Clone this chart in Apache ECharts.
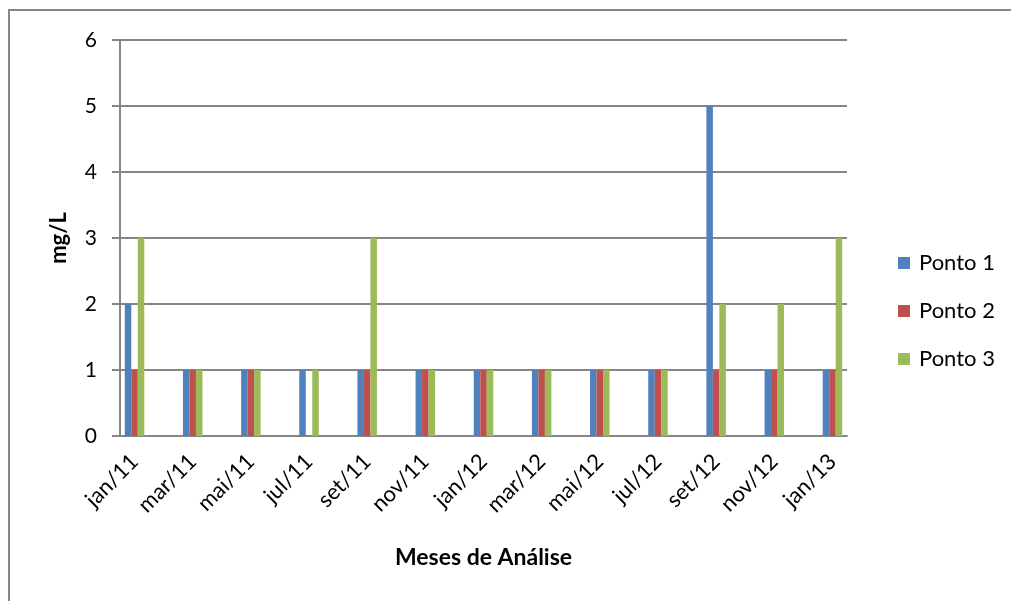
<!DOCTYPE html>
<html>
	<head>
		<meta charset="utf-8" />
		<title></title>
		<script type="text/javascript" src="https://cdn.jsdelivr.net/npm/echarts@6/dist/echarts.min.js"></script>
	</head>
	<body style="margin:0;background:#fff;">
		<div id="main" style="width: 1011px;height: 601px;"></div>
		<script type="text/javascript">
	// meses (eixo de datas mensal, rótulos a cada 2 meses)
	var meses = ['jan/11','fev/11','mar/11','abr/11','mai/11','jun/11','jul/11','ago/11','set/11','out/11','nov/11','dez/11',
	             'jan/12','fev/12','mar/12','abr/12','mai/12','jun/12','jul/12','ago/12','set/12','out/12','nov/12','dez/12',
	             'jan/13'];
	var ponto1 = [2,'-',1,'-',1,'-',1,'-',1,'-',1,'-',1,'-',1,'-',1,'-',1,'-',5,'-',1,'-',1];
	var ponto2 = [1,'-',1,'-',1,'-',0,'-',1,'-',1,'-',1,'-',1,'-',1,'-',1,'-',1,'-',1,'-',1];
	var ponto3 = [3,'-',1,'-',1,'-',1,'-',3,'-',1,'-',1,'-',1,'-',1,'-',1,'-',2,'-',2,'-',3];
	var yTicks = [0, 6, 1]; // min, max, intervalo

	var fonte = 'Lato, "Open Sans", sans-serif';
	var cinza = '#868686';

	var myChart = echarts.init(document.getElementById('main'));
    var option = {
      animation: false,
      color: ['#4F81BD', '#C0504D', '#9BBB59'],
      textStyle: { fontFamily: fonte },
      graphic: [{ //moldura do gráfico
        type: 'rect',
        shape: { x: 9, y: 10, width: 1200, height: 800 },
        style: { fill: 'none', stroke: cinza, lineWidth: 2 },
        silent: true
      }],
      grid: {
        top: 40,
        left: 120,
        right: 164,
        bottom: 165
      },
      legend: {
        orient: 'vertical',
        left: 893,
        top: 247,
        itemWidth: 12,
        itemHeight: 12,
        itemGap: 26,
        icon: 'rect',
        textStyle: { fontSize: 22, color: '#000', fontFamily: fonte, padding: [0, 0, 0, 4] },
        data: ['Ponto 1', 'Ponto 2', 'Ponto 3']
      },
      xAxis: {
        type: 'category',
        data: meses,
        name: 'Meses de Análise',
        nameLocation: 'middle',
        nameGap: 110,
        nameTextStyle: { fontSize: 23, fontWeight: 'bold', color: '#000', fontFamily: fonte },
        axisLine: { lineStyle: { color: cinza, width: 2 } },
        axisTick: { interval: 1, length: 8, lineStyle: { color: cinza, width: 2 } },
        axisLabel: { interval: 1, rotate: 45, margin: 22, fontSize: 22, color: '#000', fontFamily: fonte }
      },
      yAxis: {
        type: 'value',
        min: yTicks[0],
        max: yTicks[1],
        interval: yTicks[2],
        name: 'mg/L',
        nameLocation: 'middle',
        nameGap: 50,
        nameTextStyle: { fontSize: 22, fontWeight: 'bold', color: '#000', fontFamily: fonte },
        axisLine: { show: true, lineStyle: { color: cinza, width: 2 } },
        axisTick: { show: true, length: 8, lineStyle: { color: cinza, width: 2 } },
        axisLabel: { margin: 23, fontSize: 21, color: '#000', fontFamily: fonte },
        splitLine: { lineStyle: { color: cinza, width: 2 } }
      },
      series: [
        { name: 'Ponto 1', type: 'bar', data: ponto1, barWidth: 6.5, barGap: '0%' },
        { name: 'Ponto 2', type: 'bar', data: ponto2, barWidth: 6.5, barGap: '0%' },
        { name: 'Ponto 3', type: 'bar', data: ponto3, barWidth: 6.5, barGap: '0%' }
      ]
    };
    myChart.setOption(option);
	</script>
	</body>

</html>
